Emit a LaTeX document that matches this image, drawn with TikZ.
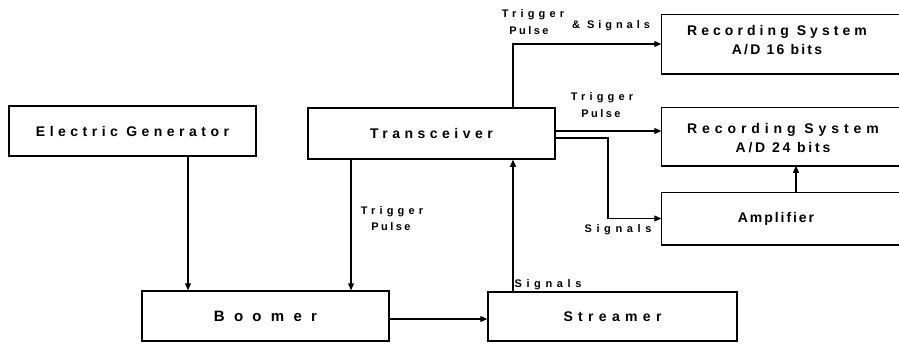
\documentclass[tikz,border=0pt]{standalone}
\usepackage{fontspec}
\setmainfont{Liberation Sans}
\usetikzlibrary{arrows.meta}
\newcommand\spacedtext[2]{{\addfontfeature{LetterSpace=#1}#2}}
\tikzset{
  box/.style={draw, line width=1.5pt, inner sep=0pt, align=center,
    font=\bfseries\fontsize{14}{18}\selectfont},
  boxtext/.style={inner sep=0pt, align=center,
    font=\bfseries\fontsize{14}{19}\selectfont},
  frame/.style={line width=1.5pt},
  lbl/.style={inner sep=0pt, font=\bfseries\fontsize{11}{12}\selectfont},
  arr/.style={line width=1.2pt, -{Triangle[length=7pt,width=6pt]}},
}
\begin{document}
\begin{tikzpicture}[x=1pt,y=-1pt]
\useasboundingbox (0,0) rectangle (899,343);
\fill[white] (0,0) rectangle (899,343);
% left-side boxes
\node[box, minimum width=247pt, minimum height=50pt] (gen) at (132.5,131) {\spacedtext{32}{Electric Generator}};
\node[box, minimum width=247pt, minimum height=51pt] (trans) at (431.5,133.5) {\spacedtext{32}{Transceiver}};
\node[box, minimum width=247pt, minimum height=50pt, font=\bfseries\fontsize{15}{18}\selectfont] (boomer) at (265.5,316) {\spacedtext{62}{Boomer}};
\node[box, minimum width=249pt, minimum height=49pt] (streamer) at (612.5,316.5) {\spacedtext{38}{Streamer}};
% right-side boxes (cut by the right edge)
\coordinate (edge) at (899,0);
\node[box, draw=none, minimum width=228pt, minimum height=58pt] (rec16) at (776,44) {};
\node[box, draw=none, minimum width=228pt, minimum height=57pt] (rec24) at (776,136.5) {};
\node[box, draw=none, minimum width=228pt, minimum height=51pt] (amp) at (776,218.5) {};
\node[boxtext] (rec16t) at (777,40) {\spacedtext{29}{Recording System}\\\spacedtext{16}{A/D 16 bits}};
\node[boxtext] (rec24t) at (783,138) {\spacedtext{35}{Recording System}\\\spacedtext{20}{A/D 24 bits}};
\node[boxtext] (ampt) at (776,219) {\spacedtext{14}{Amplifier}};
\draw[frame] (rec16.north west -| edge) -- (rec16.north west) -- (rec16.south west) -- (rec16.south west -| edge);
\draw[frame] (rec24.north west -| edge) -- (rec24.north west) -- (rec24.south west) -- (rec24.south west -| edge);
\draw[frame] (amp.north west -| edge) -- (amp.north west) -- (amp.south west) -- (amp.south west -| edge);
% connectors
\coordinate (xg) at (188,0);
\coordinate (xt) at (351,0);
\coordinate (xs) at (513,0);
\coordinate (yb) at (0,319);
\coordinate (yp) at (0,131);
\coordinate (ys) at (0,138);
\coordinate (xv) at (608,0);
\coordinate (xa) at (796,0);
\draw[arr] (gen.south -| xg) -- (boomer.north -| xg);
\draw[arr] (trans.south -| xt) -- (boomer.north -| xt);
\draw[arr] (streamer.north -| xs) -- (trans.south -| xs);
\draw[arr] (trans.north -| xs) |- (rec16.west);
\draw[arr] (boomer.east |- yb) -- (streamer.west |- yb);
\draw[arr] (trans.east |- yp) -- (rec24.west |- yp);
\draw[arr] (trans.east |- ys) -| (xv |- amp.west) -- (amp.west);
\draw[arr] (amp.north -| xa) -- (rec24.south -| xa);
% labels
\node[lbl] (l1a) at (533,15) {\spacedtext{38}{Trigger}};
\node[lbl] (l1b) at (529,31) {\spacedtext{22}{Pulse}};
\node[lbl] (l1c) at (611,26) {\spacedtext{36}{\& Signals}};
\node[lbl] (l2a) at (602,98) {\spacedtext{38}{Trigger}};
\node[lbl] (l2b) at (601,114) {\spacedtext{22}{Pulse}};
\node[lbl] (l3) at (618,230) {\spacedtext{42}{Signals}};
\node[lbl] (l4a) at (392,212) {\spacedtext{38}{Trigger}};
\node[lbl] (l4b) at (391,227) {\spacedtext{22}{Pulse}};
\node[lbl] (l5) at (548,285) {\spacedtext{42}{Signals}};
\end{tikzpicture}
\end{document}
